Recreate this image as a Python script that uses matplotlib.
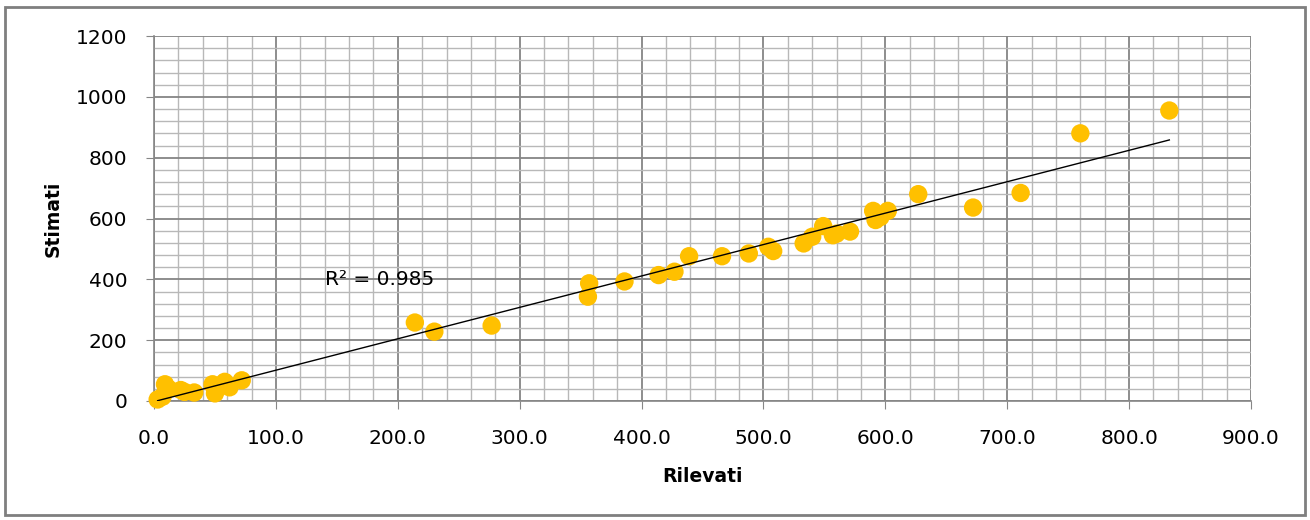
import numpy as np
import matplotlib
matplotlib.use("Agg")
import matplotlib.pyplot as plt
from matplotlib.ticker import MultipleLocator, FormatStrFormatter
from matplotlib.patches import Rectangle

rilevati = [3, 7, 9, 12, 22, 25, 33, 48, 50, 52, 58, 62, 72,
            214, 230, 277, 356, 357, 386, 414, 427, 439, 466, 488,
            504, 508, 533, 540, 549, 557, 560, 571, 590, 592, 596, 602,
            627, 672, 711, 760, 833]
stimati = [5, 14, 55, 40, 36, 30, 28, 55, 25, 47, 63, 45, 68,
           258, 228, 248, 343, 387, 393, 414, 425, 476, 476, 485,
           507, 493, 518, 540, 575, 545, 550, 557, 625, 595, 605, 625,
           680, 636, 684, 880, 955]
r2_label = "R² = 0.985"
x_label = "Rilevati"
y_label = "Stimati"

plt.rcParams['font.family'] = ['DejaVu Sans']
fig = plt.figure(figsize=(13.1, 5.2), dpi=100)
ax = fig.add_axes([154/1310, 1 - 401/520, (1251-154)/1310, (401-36)/520])

x = np.array(rilevati, float)
y = np.array(stimati, float)

ax.set_xlim(0, 900)
ax.set_ylim(0, 1200)
ax.xaxis.set_major_locator(MultipleLocator(100))
ax.xaxis.set_minor_locator(MultipleLocator(20))
ax.yaxis.set_major_locator(MultipleLocator(200))
ax.yaxis.set_minor_locator(MultipleLocator(40))
ax.xaxis.set_major_formatter(FormatStrFormatter('%.1f'))
ax.yaxis.set_major_formatter(FormatStrFormatter('%d'))

ax.grid(which='major', color='#858585', linewidth=1.3, zorder=0)
ax.grid(which='minor', color='#b8b8b8', linewidth=1.0, zorder=0)
ax.set_axisbelow(True)

for s in ['top', 'right']:
    ax.spines[s].set_visible(False)
for s in ['left', 'bottom']:
    ax.spines[s].set_color('#868686')
    ax.spines[s].set_linewidth(1.2)

ax.tick_params(which='major', direction='out', length=6, color='#868686',
               labelsize=14.5, labelcolor='#000000')
ax.tick_params(axis='x', which='major', pad=14)
ax.tick_params(axis='y', which='major', pad=13)
ax.tick_params(which='minor', length=0)

ax.scatter(x, y, s=175, color='#FFC000', edgecolors='none', zorder=3, clip_on=False)

coef = np.polyfit(x, y, 1)
xs = np.array([x.min(), x.max()])
ax.plot(xs, np.polyval(coef, xs), color='black', linewidth=1.0, zorder=4)

ax.text(140, 400, r2_label, fontsize=14.5, ha='left', va='center', zorder=5)

ax.set_xlabel(x_label, fontsize=13.5, fontweight='bold', labelpad=14)
ax.set_ylabel(y_label, fontsize=13.5, fontweight='bold', labelpad=10)

fig.patches.append(Rectangle((5/1310, 1 - 515/520), 1300/1310, 508/520,
                             transform=fig.transFigure, fill=False,
                             edgecolor='#7f7f7f', linewidth=2))

fig.savefig('out.png', dpi=100)
